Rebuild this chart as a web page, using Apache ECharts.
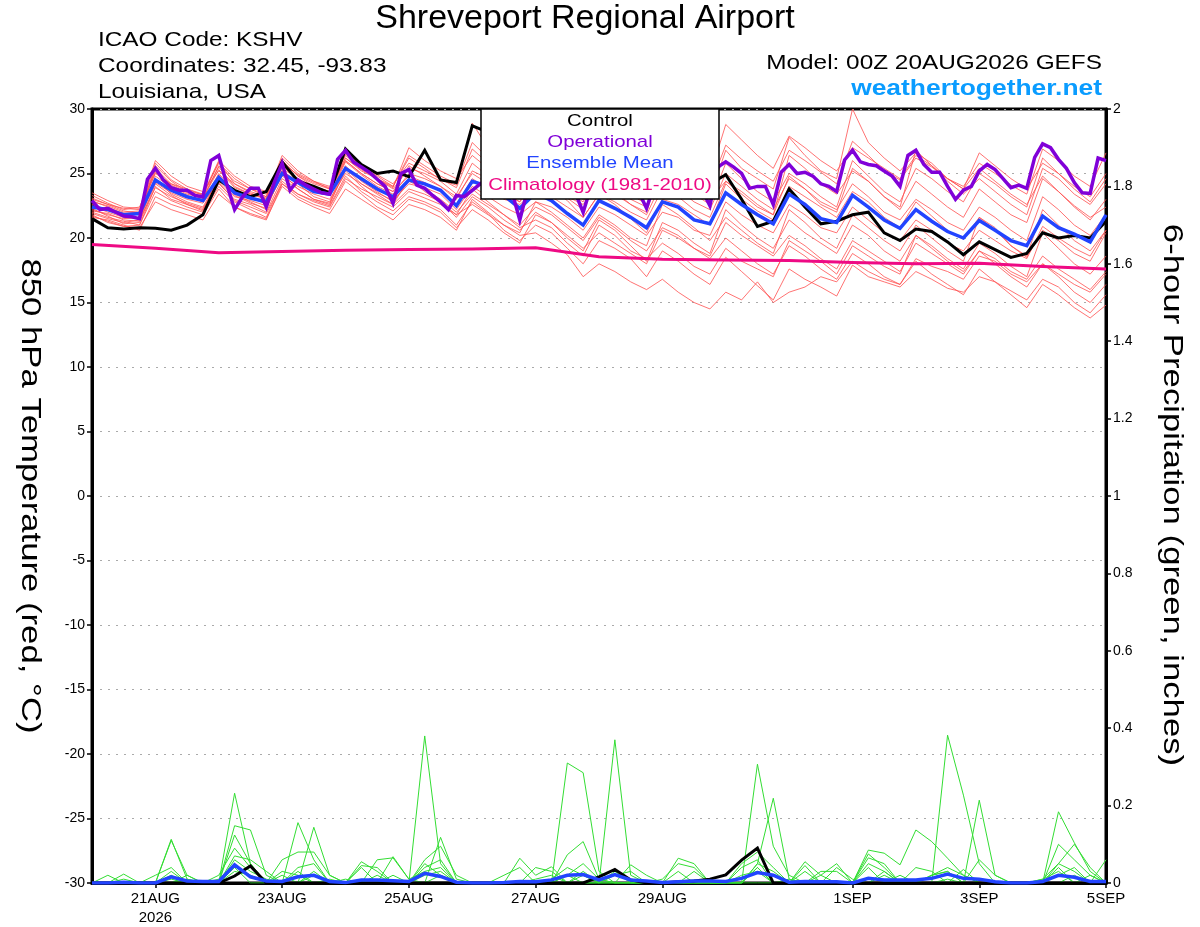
<!DOCTYPE html>
<html>
<head>
<meta charset="utf-8">
<script src="https://cdn.jsdelivr.net/npm/echarts@6/dist/echarts.min.js"></script>
<style>
html, body { margin: 0; padding: 0; background: #fff; }
#chart { width: 1200px; height: 927px; }
</style>
</head>
<body>
<div id="chart"></div>
<script>
// hours since 00Z 20AUG2026 where the date labels sit
var tickHours = [24, 72, 120, 168, 216, 288, 336, 384]
var tickLabels = ['21AUG\n2026', '23AUG', '25AUG', '27AUG', '29AUG', '1SEP', '3SEP', '5SEP']

// 850 hPa temperature, 6-hourly (65 steps)
var control = [21.5, 20.8, 20.7, 20.8, 20.75, 20.6, 21.0, 21.8, 24.5, 23.7,
  23.2, 23.6, 25.9, 24.4, 24.0, 23.5, 26.9, 25.7, 25.0, 25.2,
  24.75, 26.8, 24.5, 24.3, 28.7, 28.2, 27.0, 26.2, 27.4, 26.6,
  25.8, 25.2, 26.4, 25.6, 24.9, 24.2, 25.8, 25.4, 24.6, 24.2,
  24.9, 23.0, 20.9, 21.3, 23.8, 22.4, 21.1, 21.3, 21.8, 22.0,
  20.4, 19.8, 20.7, 20.5, 19.7, 18.7, 19.7, 19.1, 18.5, 18.8,
  20.4, 20.0, 20.2, 20.0, 21.3]
var ensMean = [22.4, 22.2, 21.8, 21.9, 24.5, 23.7, 23.2, 22.9, 24.7, 23.5, 23.1, 22.8,
  25.0, 24.3, 23.6, 23.4, 25.4, 24.6, 23.8, 23.2, 24.5, 24.2, 23.7, 22.5,
  24.4, 24.0, 23.3, 22.3, 23.5, 22.9, 21.9, 21.0, 22.9, 22.3, 21.6, 20.8,
  22.8, 22.4, 21.4, 21.1, 23.5, 22.6, 21.8, 21.1, 23.4, 22.6, 21.5, 21.2,
  23.3, 22.4, 21.4, 20.75, 22.2, 21.3, 20.5, 20.0, 21.35, 20.6, 19.8, 19.4,
  21.7, 20.8, 20.3, 19.7, 21.8]
// operational run, 3-hourly (129 steps)
var operational = [22.9, 22.2, 22.3, 22.0, 21.7, 21.65, 21.5, 24.55, 25.4, 24.5,
  23.9, 23.7, 23.7, 23.3, 23.2, 26.0, 26.4, 24.2, 22.2, 23.2,
  23.85, 23.85, 22.4, 24.3, 25.8, 23.7, 24.5, 24.1, 23.8, 23.5,
  23.4, 26.1, 26.8, 25.9, 25.5, 25.1, 24.55, 24.0, 22.7, 25.0,
  25.3, 24.1, 23.85, 23.3, 22.8, 22.2, 23.3, 23.2, 23.7, 24.2,
  24.6, 25.2, 24.8, 23.6, 21.4, 23.8, 25.0, 25.5, 25.2, 24.6,
  24.2, 23.5, 22.0, 24.0, 25.3, 25.8, 25.4, 24.8, 24.3, 23.6,
  22.3, 24.2, 25.4, 25.9, 25.6, 25.0, 24.4, 23.7, 22.5, 25.5,
  25.9, 25.5, 25.0, 23.85, 24.0, 24.0, 22.6, 25.1, 25.7, 25.0,
  25.1, 24.8, 24.2, 24.0, 23.6, 26.05, 26.8, 25.9, 25.7, 25.6,
  25.2, 24.8, 24.0, 26.4, 26.8, 25.7, 25.1, 25.1, 24.0, 23.0,
  23.7, 24.0, 25.2, 25.7, 25.3, 24.6, 23.9, 24.1, 23.85, 26.25,
  27.3, 27.0, 26.1, 25.4, 24.3, 23.5, 23.45, 26.2, 26.0]
// 1981-2010 climatology, daily (17 steps)
var climatology = [19.5, 19.2, 18.85, 18.95, 19.05, 19.1, 19.15, 19.25, 18.55,
  18.35, 18.3, 18.25, 18.1, 18.0, 18.05, 17.8, 17.6]

// ensemble member temperatures, 6-hourly
var memberA = [22.8, 22.5, 22.0, 22.1, 25.8, 24.5, 23.8, 23.3, 25.9, 24.2, 23.5, 23.0, 26.0, 24.8, 24.2, 23.8,
  26.5, 25.6, 24.9, 24.2, 25.8, 25.2, 24.6, 23.9, 26.9, 25.8, 24.9, 24.2, 25.5, 25.0, 24.2, 23.4,
  25.9, 25.2, 24.6, 23.6, 26.4, 25.6, 24.8, 24.0, 27.2, 26.1, 25.2, 24.4, 26.8, 26.0, 25.1, 24.2,
  27.5, 26.4, 25.2, 24.5, 26.2, 25.5, 24.6, 24.0, 25.8, 25.0, 24.1, 23.4, 26.9, 26.0, 24.8, 24.0, 26.6]
var memberB = [22.0, 21.6, 21.3, 21.0, 23.6, 22.9, 22.4, 22.0, 24.0, 22.8, 22.2, 21.6, 24.4, 23.4, 22.9, 22.5,
  24.8, 23.6, 22.8, 22.1, 23.2, 22.8, 22.2, 21.0, 22.8, 21.9, 20.6, 19.8, 21.0, 20.4, 19.2, 18.0,
  19.8, 19.2, 18.4, 17.0, 19.0, 18.2, 17.2, 16.4, 18.5, 17.4, 16.3, 15.2, 17.6, 16.8, 16.2, 15.5,
  17.9, 17.0, 16.6, 16.2, 17.4, 16.8, 16.1, 15.8, 17.0, 16.6, 15.9, 15.2, 16.8, 16.2, 15.0, 14.2, 15.6]
var memberC = [23.3, 22.7, 22.2, 22.4, 25.2, 24.1, 23.5, 23.0, 25.6, 24.4, 23.8, 23.4, 26.0, 24.8, 24.0, 23.6,
  26.7, 25.5, 24.8, 24.0, 26.2, 25.4, 24.5, 24.1, 28.9, 27.0, 25.0, 23.5, 24.6, 23.8, 22.9, 21.6,
  23.4, 22.6, 21.5, 20.4, 23.0, 22.6, 21.8, 21.0, 24.2, 23.0, 22.1, 21.4, 24.0, 23.2, 22.4, 21.6,
  23.6, 22.8, 21.6, 20.8, 22.8, 21.7, 20.6, 19.9, 21.6, 20.8, 19.4, 18.5, 20.6, 19.8, 18.8, 18.2, 20.4]
var memberD = [21.8, 21.2, 20.9, 21.0, 24.0, 23.0, 22.6, 22.2, 24.2, 23.0, 22.6, 22.0, 24.6, 23.8, 23.0, 22.7,
  25.2, 24.0, 23.0, 22.4, 23.6, 23.1, 22.6, 21.8, 22.6, 21.8, 21.0, 20.2, 20.4, 19.6, 18.7, 17.0,
  18.0, 17.4, 16.6, 16.0, 16.8, 15.8, 15.0, 14.5, 15.8, 15.2, 16.6, 15.0, 15.8, 16.2, 17.0, 16.6,
  18.2, 17.4, 16.8, 16.4, 18.4, 17.8, 17.4, 16.8, 18.6, 18.2, 17.2, 16.6, 18.0, 17.2, 16.4, 15.8, 17.2]
var memberE = [22.5, 22.0, 21.6, 21.5, 24.8, 23.9, 23.3, 22.8, 25.0, 23.6, 23.2, 22.6, 25.4, 24.6, 23.8, 23.3,
  25.9, 24.9, 24.0, 23.4, 25.0, 24.6, 24.0, 23.0, 25.2, 24.6, 23.6, 22.8, 24.2, 23.8, 23.1, 22.2,
  24.8, 24.0, 23.0, 22.4, 25.6, 25.0, 24.0, 23.2, 26.8, 25.4, 24.6, 23.8, 27.8, 26.4, 25.2, 24.6,
  30.0, 27.4, 26.2, 25.2, 26.6, 25.8, 24.6, 23.8, 25.4, 24.4, 23.4, 22.6, 24.8, 23.6, 22.5, 21.6, 22.4]
var memberF = [22.2, 21.8, 21.5, 21.6, 24.3, 23.5, 23.0, 22.7, 24.4, 23.2, 22.9, 22.5, 24.8, 24.0, 23.4, 23.0,
  25.0, 24.2, 23.5, 22.9, 24.2, 23.9, 23.4, 22.2, 24.0, 23.2, 22.4, 21.8, 22.8, 22.4, 21.6, 20.6,
  22.4, 21.8, 21.0, 20.2, 22.0, 21.6, 20.6, 20.2, 22.8, 21.8, 21.0, 20.4, 22.6, 21.8, 20.8, 20.4,
  22.4, 21.4, 20.4, 19.8, 21.4, 20.6, 19.6, 19.0, 20.6, 19.8, 19.0, 18.4, 20.9, 20.0, 19.2, 18.6, 20.6]
var memberG = [23.0, 22.6, 22.1, 21.9, 25.6, 24.4, 23.6, 23.4, 26.0, 24.8, 24.0, 23.6, 25.6, 24.6, 24.0, 23.6,
  26.2, 25.2, 24.6, 23.8, 25.4, 25.0, 24.4, 23.4, 25.8, 24.8, 23.9, 23.4, 24.6, 24.0, 23.2, 22.6,
  24.2, 23.6, 22.6, 21.8, 24.4, 23.8, 22.8, 22.2, 25.0, 24.0, 23.0, 22.2, 24.6, 23.8, 22.6, 22.0,
  25.4, 24.4, 23.2, 22.2, 24.4, 23.4, 22.4, 21.6, 23.8, 22.8, 21.8, 21.2, 24.6, 23.6, 22.4, 21.4, 23.0]
var memberH = [21.6, 21.4, 21.0, 20.6, 23.2, 22.6, 22.2, 21.8, 23.8, 22.4, 21.8, 21.4, 24.2, 23.2, 22.6, 22.2,
  24.4, 23.4, 22.4, 21.8, 23.0, 22.6, 22.0, 20.8, 22.2, 21.4, 20.4, 19.6, 21.8, 21.2, 20.2, 19.2,
  20.4, 19.6, 18.8, 18.0, 20.6, 20.0, 19.2, 18.6, 21.2, 20.2, 19.4, 18.6, 20.2, 19.4, 18.4, 17.6,
  19.8, 19.0, 18.2, 17.4, 19.6, 18.8, 18.0, 17.2, 19.0, 18.4, 17.4, 16.8, 18.6, 17.6, 16.8, 16.0, 17.4]
var memberI = [22.6, 22.2, 21.9, 22.0, 25.1, 24.0, 23.4, 23.1, 25.3, 23.9, 23.4, 23.0, 25.2, 24.4, 23.9, 23.5,
  26.0, 25.0, 24.2, 23.6, 24.8, 24.3, 23.6, 22.6, 24.6, 23.8, 23.0, 22.6, 23.6, 23.2, 22.4, 21.6,
  23.4, 22.8, 22.0, 21.4, 23.8, 23.2, 22.2, 21.6, 24.4, 23.4, 22.4, 21.8, 24.8, 23.8, 22.8, 22.2,
  24.2, 23.2, 22.0, 21.4, 23.0, 22.2, 21.2, 20.6, 22.4, 21.6, 20.6, 19.8, 23.2, 22.2, 21.0, 20.2, 21.8]
var memberJ = [22.1, 21.9, 21.4, 21.3, 24.6, 23.4, 22.8, 22.4, 24.6, 23.4, 22.8, 22.2, 25.2, 24.2, 23.2, 22.8,
  25.6, 24.4, 23.6, 22.8, 24.4, 23.8, 23.0, 22.0, 23.4, 22.6, 21.8, 21.0, 22.4, 21.8, 20.8, 19.8,
  21.6, 20.8, 19.8, 19.0, 20.8, 20.2, 19.2, 18.4, 20.0, 19.0, 18.0, 17.2, 19.4, 18.6, 17.6, 16.8,
  18.8, 18.0, 17.0, 16.4, 18.2, 17.2, 16.4, 15.6, 17.6, 16.6, 15.6, 14.6, 16.4, 15.6, 14.6, 13.8, 14.8]
var memberK = [23.5, 22.9, 22.4, 22.3, 26.0, 24.8, 24.0, 23.6, 25.2, 24.2, 23.6, 23.2, 26.2, 25.0, 24.4, 24.0,
  26.4, 25.4, 24.6, 23.9, 27.0, 26.0, 25.2, 24.6, 26.4, 25.4, 24.4, 23.4, 24.8, 24.4, 23.6, 22.8,
  25.2, 24.4, 23.4, 22.6, 25.0, 24.4, 23.4, 22.6, 25.8, 24.6, 23.6, 22.8, 25.0, 24.2, 23.2, 22.4,
  26.0, 24.8, 23.6, 22.8, 25.4, 24.6, 23.6, 22.8, 25.0, 24.2, 23.2, 22.4, 26.2, 25.0, 23.8, 22.8, 24.6]
var memberL = [21.9, 21.5, 21.2, 21.4, 23.9, 23.2, 22.7, 22.3, 24.3, 22.9, 22.4, 21.9, 24.2, 23.4, 22.8, 22.4,
  24.6, 23.8, 23.2, 22.6, 23.8, 23.4, 22.8, 21.6, 23.2, 22.4, 21.4, 20.6, 22.0, 21.2, 20.0, 19.0,
  21.4, 20.6, 19.4, 18.2, 21.2, 20.6, 19.6, 18.8, 22.2, 21.0, 20.0, 19.2, 21.4, 20.4, 19.6, 18.8,
  21.0, 20.2, 19.0, 18.2, 20.2, 19.4, 18.4, 17.6, 19.6, 18.8, 17.8, 17.0, 20.4, 19.2, 18.0, 17.2, 18.6]
var memberM = [22.9, 22.4, 21.9, 21.8, 25.4, 24.2, 23.6, 23.2, 25.5, 24.0, 23.4, 23.1, 25.8, 24.9, 24.3, 23.9,
  26.2, 25.3, 24.6, 24.0, 26.4, 25.6, 24.8, 24.2, 27.4, 26.2, 25.2, 24.6, 26.8, 26.0, 25.2, 24.4,
  27.6, 26.6, 25.8, 25.0, 27.2, 26.4, 25.4, 24.8, 28.8, 27.6, 26.4, 25.4, 27.9, 27.0, 26.0, 25.2,
  27.0, 26.2, 25.4, 24.6, 26.4, 25.6, 24.6, 23.8, 26.6, 25.6, 24.6, 23.8, 25.8, 25.0, 24.0, 23.2, 25.0]
var memberN = [22.3, 21.7, 21.1, 21.2, 24.2, 23.3, 22.6, 22.1, 24.9, 23.3, 22.7, 22.3, 25.0, 23.8, 23.0, 22.6,
  25.4, 24.2, 23.4, 22.6, 24.6, 23.6, 22.8, 21.8, 23.8, 22.8, 21.8, 20.8, 21.4, 20.8, 19.6, 18.6,
  21.0, 20.2, 19.0, 18.4, 19.6, 18.8, 17.8, 17.2, 19.2, 18.2, 17.6, 17.0, 19.8, 19.0, 18.2, 17.2,
  19.4, 18.6, 17.8, 17.2, 20.2, 19.2, 18.2, 17.4, 19.0, 18.0, 17.0, 16.2, 18.0, 17.0, 15.8, 15.0, 16.4]
var memberO = [23.1, 22.6, 22.3, 22.2, 25.0, 24.2, 23.8, 23.4, 25.8, 24.6, 23.8, 23.2, 26.4, 25.2, 24.4, 23.8,
  26.0, 25.0, 24.2, 23.6, 25.6, 24.8, 24.0, 23.2, 25.0, 24.2, 23.4, 22.8, 25.4, 24.8, 23.8, 23.0,
  24.0, 23.4, 22.6, 22.0, 25.8, 24.8, 23.8, 23.0, 24.4, 23.6, 22.6, 21.8, 26.4, 25.4, 24.2, 23.4,
  25.2, 24.4, 23.2, 22.4, 26.8, 25.6, 24.4, 23.4, 24.6, 23.6, 22.6, 21.8, 25.4, 24.6, 23.4, 22.6, 24.2]
var memberP = [21.7, 21.3, 20.9, 20.8, 22.8, 22.2, 21.8, 21.4, 23.4, 22.4, 21.9, 21.5, 24.0, 23.0, 22.4, 21.9,
  23.8, 23.0, 22.2, 21.4, 22.6, 22.2, 21.6, 20.6, 23.0, 22.0, 21.0, 20.4, 22.8, 22.0, 21.0, 20.0,
  21.8, 21.0, 20.0, 19.4, 22.6, 21.8, 20.8, 19.8, 21.6, 20.6, 19.6, 18.8, 22.2, 21.2, 20.0, 19.2,
  21.8, 20.8, 19.8, 19.0, 21.0, 20.0, 19.0, 18.2, 21.6, 20.6, 19.4, 18.6, 22.2, 21.0, 19.8, 19.0, 20.6]

// 6-hour precipitation (inches)
var precipControl = [0, 0, 0, 0, 0, 0, 0, 0, 0, 0.018, 0.044, 0, 0, 0, 0, 0,
  0, 0, 0, 0, 0, 0, 0, 0, 0, 0, 0, 0, 0, 0, 0, 0,
  0.016, 0.035, 0.008, 0, 0, 0.003, 0.005, 0.01, 0.021, 0.059, 0.09, 0, 0, 0, 0, 0,
  0, 0, 0, 0, 0, 0, 0, 0, 0, 0, 0, 0, 0, 0, 0, 0, 0]
var precipMean = [0, 0, 0.002, 0, 0, 0.016, 0.005, 0.004, 0.004, 0.047, 0.016, 0.005, 0.004, 0.016, 0.02, 0.004,
  0.001, 0.008, 0.008, 0.006, 0.004, 0.025, 0.017, 0.002, 0, 0, 0.001, 0.004, 0.003, 0.008, 0.02, 0.022,
  0.008, 0.022, 0.008, 0.005, 0.001, 0.003, 0.005, 0.005, 0.004, 0.012, 0.027, 0.02, 0.002, 0.004, 0.003, 0.003,
  0, 0.012, 0.008, 0.008, 0.008, 0.012, 0.023, 0.012, 0.01, 0.003, 0, 0, 0.004, 0.02, 0.015, 0.004, 0.004]
var precipP1 = [0, 0, 0, 0, 0, 0.113, 0.01, 0, 0, 0.148, 0.137, 0.02, 0, 0, 0, 0,
  0, 0, 0, 0, 0, 0.38, 0.05, 0, 0, 0, 0, 0, 0, 0, 0.073, 0.107,
  0.01, 0, 0, 0, 0, 0, 0, 0, 0, 0, 0, 0, 0, 0, 0, 0,
  0, 0, 0, 0, 0, 0, 0.382, 0.227, 0.05, 0, 0, 0, 0, 0.05, 0.03, 0, 0]
var precipP2 = [0, 0.02, 0, 0, 0, 0.11, 0.02, 0, 0, 0.232, 0.05, 0, 0, 0, 0.144, 0.02,
  0, 0, 0, 0, 0, 0, 0.118, 0.01, 0, 0, 0, 0, 0, 0, 0.31, 0.285,
  0.03, 0, 0, 0, 0, 0, 0, 0, 0, 0, 0.05, 0.219, 0.01, 0, 0, 0,
  0, 0, 0, 0, 0, 0, 0, 0, 0.214, 0.02, 0, 0, 0, 0.184, 0.104, 0.03, 0]
var precipP3 = [0, 0, 0, 0, 0.02, 0.04, 0, 0, 0, 0.124, 0.05, 0, 0, 0.156, 0.06, 0,
  0, 0.055, 0.03, 0, 0, 0.06, 0.095, 0.02, 0, 0, 0, 0, 0, 0, 0, 0,
  0, 0.37, 0.02, 0, 0, 0, 0, 0, 0, 0, 0.307, 0.095, 0.02, 0, 0, 0,
  0, 0.085, 0.077, 0.047, 0.137, 0.107, 0.064, 0.02, 0, 0, 0, 0, 0, 0, 0, 0, 0.06]
var precipP4 = [0, 0, 0, 0, 0, 0.03, 0, 0, 0.02, 0.09, 0.04, 0, 0.06, 0.08, 0.08, 0.02,
  0, 0, 0, 0.068, 0.01, 0, 0, 0, 0, 0, 0, 0.064, 0.02, 0.042, 0, 0.03,
  0, 0, 0, 0, 0, 0.064, 0.05, 0, 0, 0.04, 0.06, 0, 0, 0.055, 0.02, 0.05,
  0, 0.075, 0.04, 0, 0, 0, 0, 0, 0.06, 0.02, 0, 0, 0, 0.1, 0.06, 0.02, 0]
var precipP5 = [0, 0, 0, 0, 0, 0, 0.01, 0, 0, 0.07, 0.06, 0.03, 0, 0.04, 0.05, 0,
  0, 0.045, 0.04, 0, 0, 0.04, 0.06, 0, 0, 0, 0, 0, 0.04, 0.03, 0, 0,
  0, 0, 0.047, 0.02, 0, 0, 0.03, 0, 0, 0.05, 0.08, 0.04, 0, 0, 0.03, 0.03,
  0, 0.065, 0.05, 0, 0.04, 0.03, 0, 0.035, 0, 0, 0, 0, 0.01, 0.05, 0.1, 0.04, 0]
var precipP6 = [0, 0, 0.01, 0, 0, 0.02, 0, 0, 0.01, 0.045, 0.02, 0, 0.02, 0, 0.02, 0,
  0, 0, 0.06, 0.065, 0.01, 0.03, 0.04, 0, 0, 0, 0.02, 0.04, 0, 0, 0.02, 0.05,
  0.01, 0, 0, 0, 0.01, 0.05, 0.04, 0, 0, 0, 0.04, 0, 0, 0.03, 0, 0.04,
  0.01, 0, 0.03, 0, 0, 0.02, 0.03, 0, 0, 0, 0, 0, 0, 0.02, 0.04, 0, 0]
var precipP7 = [0, 0, 0, 0, 0, 0, 0, 0, 0, 0.03, 0.02, 0, 0, 0.03, 0, 0.01,
  0, 0.04, 0, 0, 0, 0.02, 0.03, 0, 0, 0, 0, 0, 0.01, 0.02, 0, 0.02,
  0, 0.02, 0.03, 0, 0, 0, 0, 0, 0, 0.02, 0.03, 0, 0.01, 0, 0.02, 0,
  0, 0.04, 0, 0.02, 0, 0.02, 0.04, 0.02, 0, 0, 0, 0, 0.01, 0.03, 0, 0, 0]
var precipP8 = [0, 0, 0, 0, 0, 0.01, 0, 0, 0, 0.06, 0.03, 0.01, 0, 0, 0.03, 0,
  0.01, 0, 0, 0.02, 0, 0.05, 0.02, 0, 0, 0, 0, 0, 0, 0.01, 0.04, 0.02,
  0, 0, 0, 0, 0, 0.03, 0, 0, 0, 0, 0.05, 0.03, 0, 0.045, 0, 0,
  0, 0.05, 0.03, 0, 0, 0.02, 0.03, 0, 0, 0, 0, 0, 0, 0, 0.02, 0, 0]
var precipP9 = [0, 0, 0.023, 0, 0, 0, 0.02, 0, 0, 0.04, 0, 0, 0.03, 0.02, 0, 0,
  0, 0, 0.02, 0, 0, 0, 0.02, 0, 0, 0, 0, 0, 0, 0, 0.02, 0,
  0, 0.03, 0, 0, 0, 0, 0, 0, 0, 0, 0.04, 0, 0, 0, 0, 0,
  0, 0, 0.02, 0, 0, 0, 0.01, 0, 0, 0, 0, 0, 0, 0.04, 0, 0.02, 0]

var tempMembers = [memberA, memberB, memberC, memberD, memberE, memberF, memberG, memberH,
  memberI, memberJ, memberK, memberL, memberM, memberN, memberO, memberP]
var precipMembers = [precipP1, precipP2, precipP3, precipP4, precipP5,
  precipP6, precipP7, precipP8, precipP9]

var FONT = '"Liberation Sans", Arial, Helvetica, sans-serif'

function toXY (vals, stepHours) {
  return vals.map(function (v, i) { return [i * stepHours, v] })
}

function lineSeries (vals, step, axis, color, width, z) {
  return {
    type: 'line',
    data: toXY(vals, step),
    xAxisIndex: 0,
    yAxisIndex: axis,
    symbol: 'none',
    silent: true,
    z: z,
    lineStyle: { color: color, width: width, join: 'miter' }
  }
}

var series = []
tempMembers.forEach(function (m) {
  series.push(lineSeries(m, 6, 0, 'rgba(255,80,80,0.8)', 1, 2))
})
precipMembers.forEach(function (p) {
  series.push(lineSeries(p, 6, 1, '#33dd33', 1, 2))
})
series.push(lineSeries(climatology, 24, 0, '#ee0a84', 3, 3))
series.push(lineSeries(control, 6, 0, '#000000', 3, 4))
series.push(lineSeries(ensMean, 6, 0, '#2244ff', 3.5, 5))
series.push(lineSeries(operational, 3, 0, '#8000d8', 3.5, 6))
series.push(lineSeries(precipControl, 6, 1, '#000000', 3, 4))
series.push(lineSeries(precipMean, 6, 1, '#2244ff', 3.5, 5))

function label (text, x, y, opts) {
  opts = opts || {}
  return {
    type: 'text',
    x: x,
    y: y,
    z: 100,
    silent: true,
    scaleX: opts.scaleX || 1,
    rotation: opts.rotation || 0,
    style: {
      text: text,
      x: 0,
      y: 0,
      fill: opts.color || '#000',
      fontSize: opts.size || 20,
      fontFamily: FONT,
      fontWeight: opts.weight || 'normal',
      textAlign: opts.align || 'left',
      textVerticalAlign: 'middle'
    }
  }
}

var chart = echarts.init(document.getElementById('chart'))
chart.setOption({
  animation: false,
  backgroundColor: '#fff',
  grid: {
    left: 92,
    right: 94,
    top: 109,
    bottom: 44,
    show: true,
    borderColor: '#000',
    borderWidth: 3
  },
  xAxis: {
    type: 'value',
    min: 0,
    max: 384,
    axisLine: { onZero: false, lineStyle: { color: '#000', width: 3 } },
    axisTick: { customValues: tickHours, length: 5, lineStyle: { color: '#000', width: 1.5 } },
    axisLabel: {
      customValues: tickHours,
      formatter: function (v) { return tickLabels[tickHours.indexOf(v)] || '' },
      color: '#000',
      fontSize: 15,
      fontFamily: FONT,
      lineHeight: 19,
      margin: 6
    },
    splitLine: { show: false }
  },
  yAxis: [
    {
      type: 'value',
      min: -30,
      max: 30,
      interval: 5,
      position: 'left',
      axisLine: { show: true, onZero: false, lineStyle: { color: '#000', width: 3 } },
      axisTick: { show: true, length: 5, lineStyle: { color: '#000', width: 1.5 } },
      axisLabel: { color: '#000', fontSize: 14, fontFamily: FONT, margin: 7 },
      splitLine: { show: true, lineStyle: { color: '#aaaaaa', width: 1.2, type: [2, 6] } }
    },
    {
      type: 'value',
      min: 0,
      max: 2,
      interval: 0.2,
      position: 'right',
      axisLine: { show: true, onZero: false, lineStyle: { color: '#000', width: 3 } },
      axisTick: { show: true, length: 5, lineStyle: { color: '#000', width: 1.5 } },
      axisLabel: { color: '#000', fontSize: 14, fontFamily: FONT, margin: 7 },
      splitLine: { show: false }
    }
  ],
  series: series,
  graphic: [
    label('Shreveport Regional Airport', 585, 19, { size: 34, align: 'center' }),
    label('ICAO Code: KSHV', 98, 40, { size: 21, scaleX: 1.16 }),
    label('Coordinates: 32.45, -93.83', 98, 66, { size: 21, scaleX: 1.16 }),
    label('Louisiana, USA', 98, 92, { size: 21, scaleX: 1.16 }),
    label('Model: 00Z 20AUG2026 GEFS', 1102, 63, { size: 21, scaleX: 1.16, align: 'right' }),
    label('weathertogether.net', 1102, 89, { size: 22, scaleX: 1.2, align: 'right', weight: 'bold', color: '#0a9cff' }),
    label('850 hPa Temperature (red, \u00B0C)', 30, 496, { size: 28, scaleX: 1.24, align: 'center', rotation: -Math.PI / 2 }),
    label('6-hour Precipitation (green, inches)', 1172, 495, { size: 28, scaleX: 1.24, align: 'center', rotation: -Math.PI / 2 }),
    {
      type: 'rect',
      z: 99,
      silent: true,
      shape: { x: 481, y: 109, width: 238, height: 90 },
      style: { fill: '#fff', stroke: '#000', lineWidth: 1.5 }
    },
    label('Control', 600, 121, { size: 17, scaleX: 1.2, align: 'center' }),
    label('Operational', 600, 142, { size: 17, scaleX: 1.2, align: 'center', color: '#8000d8' }),
    label('Ensemble Mean', 600, 163, { size: 17, scaleX: 1.2, align: 'center', color: '#2244ff' }),
    label('Climatology (1981-2010)', 600, 185, { size: 17, scaleX: 1.2, align: 'center', color: '#ee0a84' })
  ]
})
</script>
</body>
</html>
